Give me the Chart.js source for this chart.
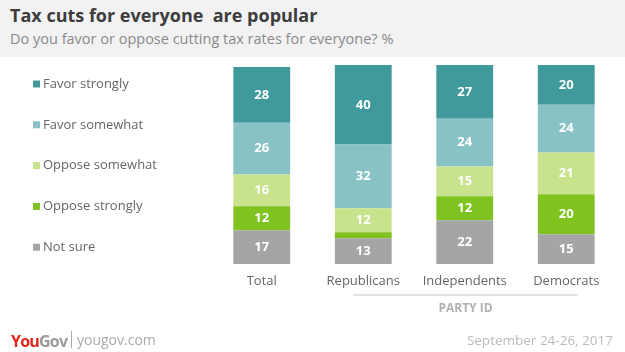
<!DOCTYPE html>
<html>
<head>
<meta charset="utf-8">
<script src="https://cdn.jsdelivr.net/npm/chart.js@4"></script>
<style>
  body { margin: 0; background: #fff; font-family: "Open Sans", sans-serif; }
  #wrap { position: relative; width: 625px; height: 352px; overflow: hidden; }
  #head { position: absolute; left: 0; top: 0; width: 625px; height: 57px; background: #f2f2f2; }
  #title { position: absolute; left: 10px; top: 3px; font-size: 18px; font-weight: bold; color: #3d3d3d; white-space: pre; }
  #sub { position: absolute; left: 10px; top: 29px; font-size: 14.5px; color: #8a8a8a; }
  #chart { position: absolute; left: 0; top: 0; }
  #party { position: absolute; left: 353px; top: 294px; width: 225px; border-top: 2px solid #e3e3e3; text-align: center; font-size: 12px; font-weight: bold; color: #b0b0b0; padding-top: 3px; }
  #logo { position: absolute; left: 11px; top: 330px; font-size: 16px; font-weight: bold; letter-spacing: -0.8px; }
  #logo .you { color: #e3261c; }
  #logo .gov { color: #9a9a9a; }
  #site { position: absolute; left: 71px; top: 331px; font-size: 14px; color: #aaa; border-left: 1px solid #aaa; padding-left: 5px; line-height: 17px; }
  #date { position: absolute; right: 12px; top: 331px; font-size: 13.5px; color: #bbb; }
</style>
</head>
<body>
<div id="wrap">
  <div id="head">
    <div id="title">Tax cuts for everyone  are popular</div>
    <div id="sub">Do you favor or oppose cutting tax rates for everyone? %</div>
  </div>
  <canvas id="chart" width="625" height="352"></canvas>
  <div id="party">PARTY ID</div>
  <div id="logo"><span class="you">You</span><span class="gov">Gov</span></div>
  <div id="site">yougov.com</div>
  <div id="date">September 24-26, 2017</div>
</div>
<script>
const groups = ['Total', 'Republicans', 'Independents', 'Democrats'];

// stacked from the bottom up
const notSure = [17, 13, 22, 15];
const opposeStrongly = [12, 3, 12, 20];
const opposeSomewhat = [16, 12, 15, 21];
const favorSomewhat = [26, 32, 24, 24];
const favorStrongly = [28, 40, 27, 20];

const seriesNames = ['Not sure', 'Oppose strongly', 'Oppose somewhat', 'Favor somewhat', 'Favor strongly'];
const seriesColors = ['#a5a5a5', '#80c21f', '#c8e38c', '#88c2c5', '#409a9b'];
const seriesValues = [notSure, opposeStrongly, opposeSomewhat, favorSomewhat, favorStrongly];

// legend on the left, top item first
const legendPlugin = {
    id: 'sideLegend',
    afterDraw(chart) {
        const ctx = chart.ctx;
        const sets = chart.data.datasets.slice().reverse();
        ctx.save();
        ctx.font = '13px "Open Sans", sans-serif';
        ctx.textBaseline = 'middle';
        sets.forEach((ds, i) => {
            const y = 84 + i * 40.8;
            ctx.fillStyle = ds.backgroundColor;
            ctx.fillRect(33, y - 3.5, 7, 7);
            ctx.fillStyle = '#666';
            ctx.fillText(ds.label, 43, y);
        });
        ctx.restore();
    }
};

// values in the middle of each segment
const valuePlugin = {
    id: 'segmentValues',
    afterDatasetsDraw(chart) {
        const ctx = chart.ctx;
        ctx.save();
        ctx.font = 'bold 13px "Open Sans", sans-serif';
        ctx.fillStyle = '#fff';
        ctx.textAlign = 'center';
        ctx.textBaseline = 'middle';
        chart.data.datasets.forEach((ds, i) => {
            chart.getDatasetMeta(i).data.forEach((bar, j) => {
                const v = ds.data[j];
                if (v < 5) return;
                ctx.fillText(v, bar.x, (bar.y + bar.base) / 2);
            });
        });
        ctx.restore();
    }
};

new Chart(document.getElementById('chart'), {
    type: 'bar',
    data: {
        labels: groups,
        datasets: seriesNames.map((name, i) => ({
            label: name,
            data: seriesValues[i],
            backgroundColor: seriesColors[i],
            borderWidth: 0,
            categoryPercentage: 1,
            barPercentage: 0.56
        }))
    },
    options: {
        responsive: false,
        animation: false,
        layout: { padding: { left: 211, right: 8, top: 65, bottom: 63 } },
        plugins: { legend: { display: false }, tooltip: { enabled: false } },
        scales: {
            x: {
                stacked: true,
                grid: { display: false, drawTicks: false },
                border: { display: false },
                ticks: { color: '#666', font: { size: 13, family: '"Open Sans", sans-serif' }, padding: 9 },
                afterFit: s => { s.height = 25; }
            },
            y: {
                stacked: true,
                display: false,
                min: 0,
                max: 100
            }
        }
    },
    plugins: [legendPlugin, valuePlugin]
});
</script>
</body>
</html>
